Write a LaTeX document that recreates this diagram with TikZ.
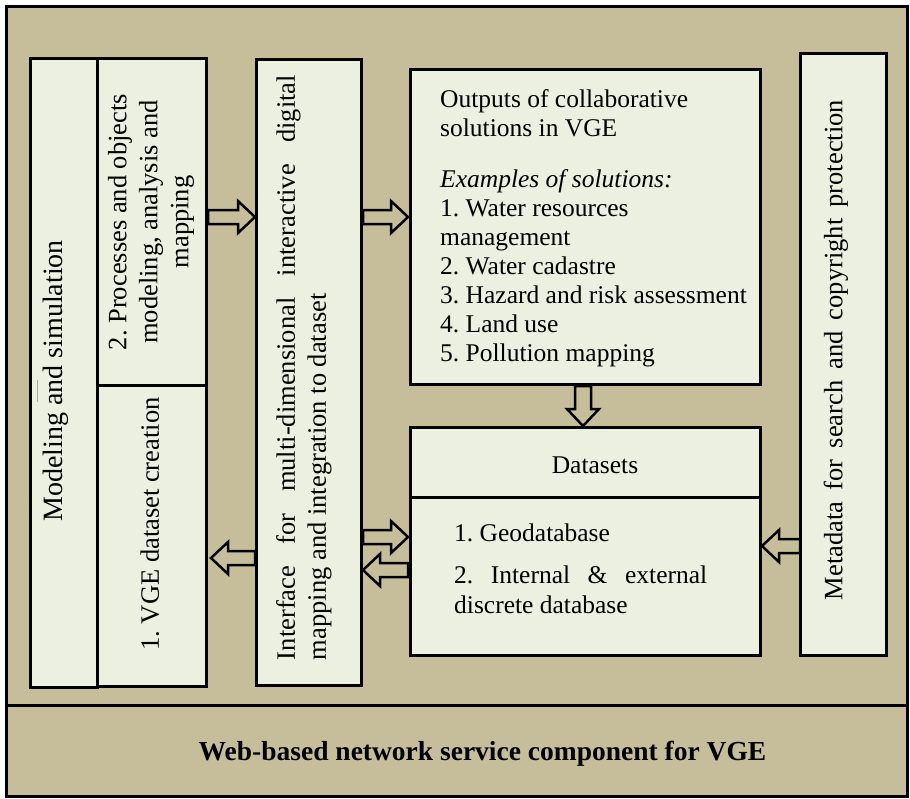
\documentclass[tikz,border=0pt]{standalone}
\usepackage{fontspec}
\setmainfont{Liberation Serif}
\usetikzlibrary{calc}
\frenchspacing
\definecolor{bgtan}{RGB}{198,190,155}
\definecolor{boxfill}{RGB}{236,240,224}
\newcommand\hblk[2]{\draw[blk] let \p1=(#1), \p2=(#2), \n1={sign(\x2-\x1)} in
  (\x1,\y1+7pt) -- ({\x2-\n1*17pt},\y1+7pt) -- ({\x2-\n1*17pt},\y1+16pt) -- (\x2,\y1)
  -- ({\x2-\n1*17pt},\y1-16pt) -- ({\x2-\n1*17pt},\y1-7pt) -- (\x1,\y1-7pt) -- cycle;}
\newcommand\vblk[2]{\draw[blk] let \p1=(#1), \p2=(#2), \n1={sign(\y2-\y1)} in
  (\x1+8pt,\y1) -- (\x1+8pt,{\y2-\n1*17pt}) -- (\x1+16pt,{\y2-\n1*17pt}) -- (\x2,\y2)
  -- (\x1-16pt,{\y2-\n1*17pt}) -- (\x1-8pt,{\y2-\n1*17pt}) -- (\x1-8pt,\y1) -- cycle;}
\begin{document}
\frenchspacing
\begin{tikzpicture}[x=1pt,y=-1pt,
  box/.style={draw=black, line width=3pt, fill=boxfill, inner sep=0pt, outer sep=0pt},
  txt/.style={inner sep=0pt, font=\fontsize{25.5}{29}\selectfont},
  rtxt/.style={inner sep=0pt, rotate=90, font=\fontsize{26.5}{31}\selectfont},
  blk/.style={draw=black, line width=2.5pt, line join=miter, fill=none}]
\useasboundingbox (0,0) rectangle (910,798);
% frame
\draw[line width=3pt, fill=bgtan] (6,6) rectangle (907,796);
\draw[line width=3pt] (6,705) -- (907,705);
% boxes
\node[box, minimum width=67, minimum height=629] (model) at (63.5,372.5) {};
\node[box, minimum width=109, minimum height=327] (proc) at (151.5,221.5) {};
\node[box, minimum width=109, minimum height=301] (vge) at (151.5,535.5) {};
\node[box, minimum width=105, minimum height=626] (iface) at (308.5,372) {};
\node[box, minimum width=350, minimum height=315] (out) at (585,226.5) {};
\node[box, minimum width=350, minimum height=70] (dhead) at (585,462) {};
\node[box, minimum width=350, minimum height=158] (dbody) at (585,576) {};
\node[box, minimum width=86, minimum height=602] (meta) at (843,354) {};
% guide coordinates
\coordinate (r1) at (0,217);
\coordinate (r2) at (0,537);
\coordinate (r3) at (0,570);
\coordinate (r4) at (0,558);
\coordinate (r5) at (0,546);
\coordinate (c1) at (583,0);
% arrows
\coordinate (a1s) at ($(proc.east|-r1)+(2,0)$);
\coordinate (a1e) at ($(iface.west|-r1)+(-1,0)$);
\coordinate (a2s) at ($(iface.east|-r1)+(2,0)$);
\coordinate (a2e) at ($(out.west|-r1)+(-2,0)$);
\coordinate (a3s) at ($(out.south-|c1)+(0,2)$);
\coordinate (a3e) at ($(dhead.north-|c1)+(0,-1)$);
\coordinate (a4s) at ($(iface.east|-r2)+(2,0)$);
\coordinate (a4e) at ($(dbody.west|-r2)+(-2,0)$);
\coordinate (a5s) at ($(dbody.west|-r3)+(-2,0)$);
\coordinate (a5e) at ($(iface.east|-r3)+(2,0)$);
\coordinate (a6s) at ($(iface.west|-r4)+(-1,0)$);
\coordinate (a6e) at ($(vge.east|-r4)+(5,0)$);
\coordinate (a7s) at ($(meta.west|-r5)+(0,0)$);
\coordinate (a7e) at ($(dbody.east|-r5)+(2,0)$);
\hblk{a1s}{a1e}
\hblk{a2s}{a2e}
\vblk{a3s}{a3e}
\hblk{a4s}{a4e}
\hblk{a5s}{a5e}
\hblk{a6s}{a6e}
\hblk{a7s}{a7e}
% small mark
\draw[black!35, line width=1pt] (37,380) -- (37,402);
% rotated texts
\node[rtxt, font=\fontsize{28}{32}\selectfont] (tmodel) at (56,381) {Modeling and simulation};
\node[rtxt, align=center] (tproc) at (151,222) {2. Processes and objects\\modeling, analysis and\\mapping};
\node[rtxt] (tvge) at (150,524) {1. VGE dataset creation};
\node[rtxt, align=left] (tiface) at (304,367.5) {\makebox[585pt][s]{Interface for multi-dimensional interactive digital}\\mapping and integration to dataset};
\node[rtxt] (tmeta) at (836,350) {\makebox[500pt][s]{Metadata for search and copyright protection}};
% outputs text
\node[txt, anchor=base west] (o1) at (440,107) {Outputs of collaborative};
\node[txt, anchor=base west] (o2) at (440,136) {solutions in VGE};
\node[txt, anchor=base west] (o3) at (440,187) {\textit{Examples of solutions:}};
\node[txt, anchor=base west] (o4) at (440,216) {1. Water resources};
\node[txt, anchor=base west] (o5) at (440,245) {management};
\node[txt, anchor=base west] (o6) at (440,274) {2. Water cadastre};
\node[txt, anchor=base west] (o7) at (440,303) {3. Hazard and risk assessment};
\node[txt, anchor=base west] (o8) at (440,332) {4. Land use};
\node[txt, anchor=base west] (o9) at (440,361) {5. Pollution mapping};
% datasets text
\node[txt, anchor=base] (tdh) at (595,473) {Datasets};
\node[txt, anchor=base west] (td1) at (454,541) {1. Geodatabase};
\node[txt, anchor=base west] (td2) at (454,583) {\makebox[253pt][s]{2. Internal \& external}};
\node[txt, anchor=base west] (td3) at (454,613) {discrete database};
% footer
\node[inner sep=0pt, anchor=base, font=\fontsize{27.5}{32}\selectfont\bfseries] (foot) at (482.5,760) {Web-based network service component for VGE};
\end{tikzpicture}
\end{document}
